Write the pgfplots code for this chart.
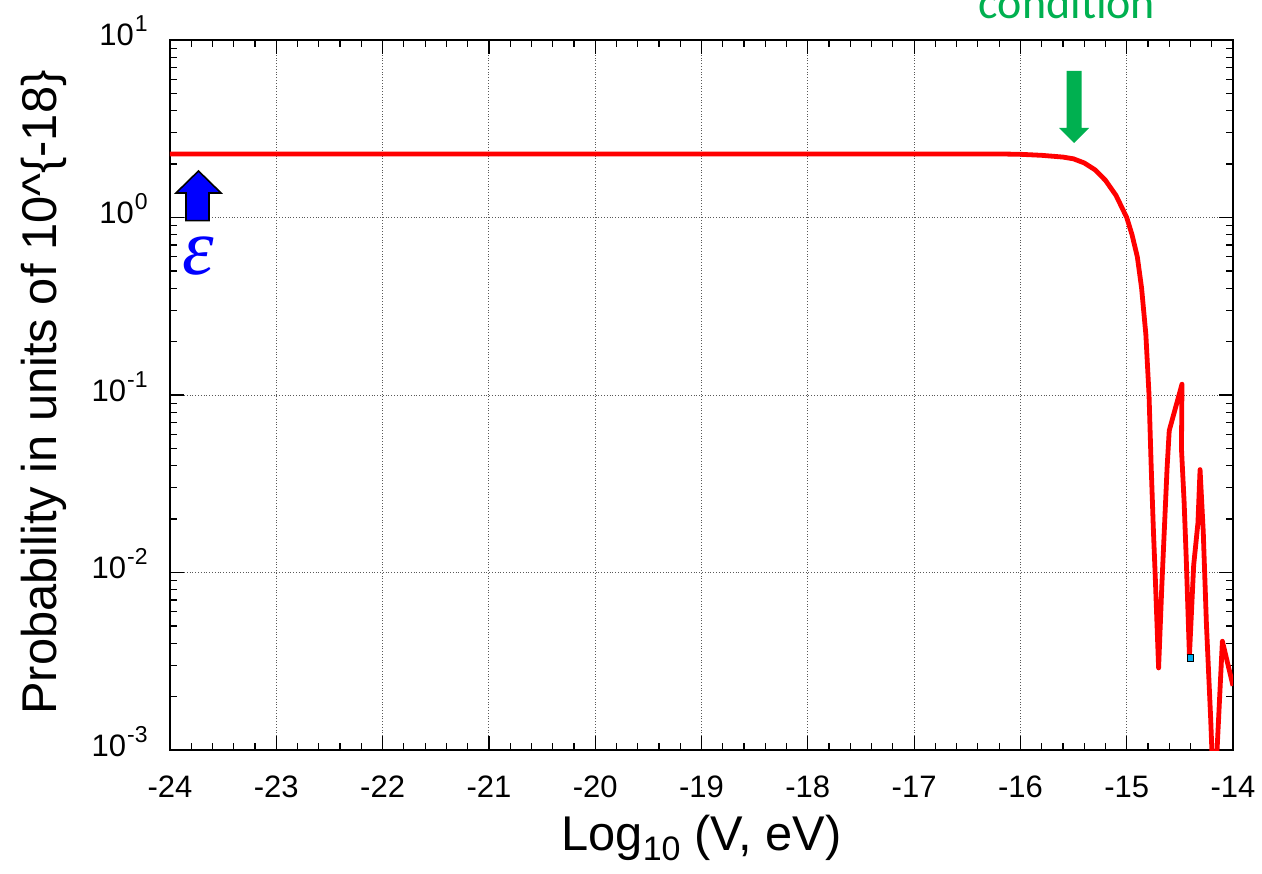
\documentclass[border=0pt]{standalone}
\usepackage{pgfplots}
\pgfplotsset{compat=1.18}
\usepackage{fontspec}
\setmainfont{Liberation Sans}
\newfontfamily\carlito{Carlito}
\newfontfamily\epsfont{Liberation Serif}
\definecolor{condgreen}{RGB}{0,176,80}
\newcommand\tsup[1]{\kern0.5pt\raisebox{7pt}{\fontsize{11.5}{11.5}\selectfont #1}}
\begin{document}
\begin{tikzpicture}
\useasboundingbox (-85pt,-61.5pt) rectangle (546pt,375pt);
\clip (-85pt,-61.5pt) rectangle (546pt,375pt);
\begin{axis}[
  scale only axis, width=531.5pt, height=355pt,
  at={(0pt,0pt)}, anchor=south west,
  xmin=-24, xmax=-14, ymode=log, ymin=1e-3, ymax=10,
  xtick={-24,-23,-22,-21,-20,-19,-18,-17,-16,-15,-14},
  xticklabels={-24,-23,-22,-21,-20,-19,-18,-17,-16,-15,-14},
  minor x tick num=4,
  ytick={1e-3,1e-2,1e-1,1,10},
  yticklabels={10\tsup{-3},10\tsup{-2},10\tsup{-1},10\tsup{0},10\tsup{1}},
  minor ytick={2e-3,3e-3,4e-3,5e-3,6e-3,7e-3,8e-3,9e-3,
               2e-2,3e-2,4e-2,5e-2,6e-2,7e-2,8e-2,9e-2,
               2e-1,3e-1,4e-1,5e-1,6e-1,7e-1,8e-1,9e-1,
               2,3,4,5,6,7,8,9},
  grid=major,
  major grid style={densely dotted, black!65, line width=0.5pt},
  tick align=inside,
  major tick length=7pt, minor tick length=3.5pt,
  tick style={black, line width=0.6pt},
  axis line style={black, line width=1.1pt},
  xticklabel style={font=\fontsize{15.5}{15.5}\selectfont, anchor=base, yshift=-23.5pt, inner sep=0pt},
  yticklabel style={font=\fontsize{15.5}{15.5}\selectfont, anchor=base east, xshift=-11pt, yshift=-3pt, inner sep=0pt},
]
\addplot[red, line width=2.4pt, line join=round] coordinates {
(-24,2.28) (-16.2,2.28) (-16.0,2.27) (-15.8,2.24) (-15.6,2.19) (-15.5,2.14)
(-15.4,2.03) (-15.3,1.86) (-15.2,1.62) (-15.1,1.33) (-15.0,1.0) (-14.95,0.80)
(-14.9,0.60) (-14.86,0.40) (-14.82,0.22) (-14.79,0.10) (-14.77,0.04) (-14.75,0.018)
(-14.73,0.009) (-14.70,0.0029) (-14.67,0.0083) (-14.62,0.039) (-14.60,0.063)
(-14.48,0.115) (-14.485,0.05) (-14.46,0.025) (-14.44,0.012) (-14.41,0.0034)
(-14.37,0.011) (-14.33,0.019) (-14.31,0.038) (-14.28,0.017) (-14.25,0.0051)
(-14.21,0.0015) (-14.18,0.0005) (-14.15,0.0010) (-14.10,0.0041) (-14.00,0.0023)
};
\addplot[only marks, mark=square*, mark size=1.6pt, mark options={fill=cyan, draw=black, line width=0.4pt}] coordinates {(-14.40,0.0033)};
\end{axis}
% blue arrow
\filldraw[fill=blue, draw=black, line width=0.8pt] (8pt,264.65pt) -- (19.5pt,264.65pt) -- (19.5pt,278.5pt) -- (25.5pt,278.5pt) -- (14.25pt,289.5pt) -- (3pt,278.5pt) -- (8pt,278.5pt) -- cycle;
\node[blue, inner sep=0pt] at (14pt,247pt) {\epsfont\itshape\fontsize{40}{40}\selectfont ε};
% green arrow
\fill[condgreen] (448.35pt,339.5pt) -- (455.85pt,339.5pt) -- (455.85pt,311pt) -- (459.5pt,311pt) -- (452pt,303.5pt) -- (444.5pt,311pt) -- (448.35pt,311pt) -- cycle;
\node[condgreen, anchor=base, inner sep=0pt] at (448.5pt,365.5pt) {\carlito\fontsize{23}{23}\selectfont condition};
% axis labels
\node[anchor=base, inner sep=0pt] at (265.75pt,-50pt) {\fontsize{24.4}{24.4}\selectfont Log\raisebox{-5pt}{\fontsize{17}{17}\selectfont 10} (V, eV)};
\node[rotate=90, anchor=base, inner sep=0pt] at (-56.5pt,178.75pt) {\fontsize{24.4}{24.4}\selectfont Probability in units of 10\textasciicircum\{-18\}};
\end{tikzpicture}
\end{document}
